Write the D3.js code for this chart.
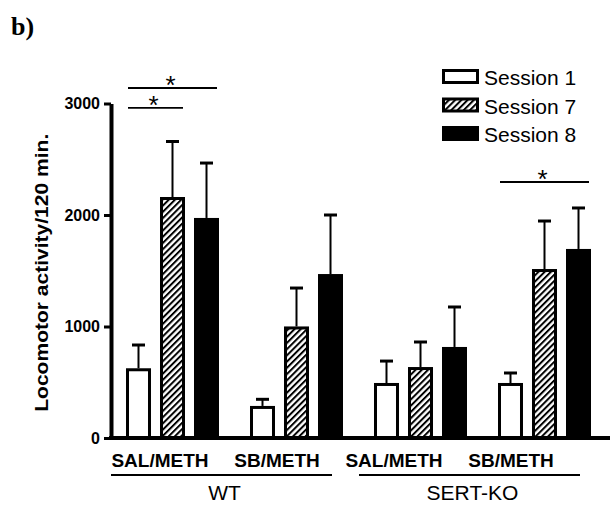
<!DOCTYPE html>
<html>
<head>
<meta charset="utf-8">
<script src="https://cdn.jsdelivr.net/npm/d3@7"></script>
<style>
  html, body { margin: 0; padding: 0; background: #fff; }
  svg { display: block; }
</style>
</head>
<body>
<svg id="chart" width="613" height="505"></svg>
<script>
// ---------- data ----------
const groupIds = ["WT-SAL", "WT-SB", "KO-SAL", "KO-SB"];
const treatmentLabels = ["SAL/METH", "SB/METH", "SAL/METH", "SB/METH"];
const genotypes = ["WT", "SERT-KO"];
const genotypeOfGroup = ["WT", "WT", "SERT-KO", "SERT-KO"];
const sessions = ["Session 1", "Session 7", "Session 8"];

const session1Mean = [612, 274, 480, 480];
const session7Mean = [2148, 987, 623, 1502];
const session8Mean = [1960, 1457, 803, 1682];

const session1Sem = [222, 73, 210, 103];
const session7Sem = [511, 358, 238, 444];
const session8Sem = [506, 543, 372, 381];

const yTicks = [0, 1000, 2000, 3000];

// significance brackets: group index, from session index, to session index, height (data units)
const sigGroup = [0, 0, 3];
const sigFrom = [0, 0, 0];
const sigTo = [1, 2, 2];
const sigLevel = [2960, 3139, 2296];
const sigLabel = ["*", "*", "*"];

// ---------- setup ----------
const svg = d3.select("#chart");
const SANS = "'Liberation Sans', Arial, Helvetica, sans-serif";

const means = [session1Mean, session7Mean, session8Mean];
const sems = [session1Sem, session7Sem, session8Sem];

const y = d3.scaleLinear().domain([0, 3000]).range([438, 103.5]);
const xg = d3.scaleBand().domain(groupIds).range([126, 591]).paddingInner(0.25).paddingOuter(0);
const xs = d3.scaleBand().domain(sessions).range([0, xg.bandwidth()]).paddingInner(0.265).paddingOuter(0);
const xLabel = d3.scalePoint().domain(groupIds).range([160, 511]);

// hatch pattern
const defs = svg.append("defs");
const pat = defs.append("pattern")
  .attr("id", "hatch")
  .attr("patternUnits", "userSpaceOnUse")
  .attr("width", 4.4).attr("height", 4.4)
  .attr("patternTransform", "rotate(45)");
pat.append("rect").attr("width", 4.4).attr("height", 4.4).attr("fill", "#fff");
pat.append("line").attr("x1", 1).attr("y1", 0).attr("x2", 1).attr("y2", 4.4)
  .attr("stroke", "#000").attr("stroke-width", 2);

const fills = ["#fff", "url(#hatch)", "#000"];

// title
svg.append("text")
  .attr("x", 11).attr("y", 35)
  .attr("font-family", "'Liberation Serif', 'Times New Roman', serif")
  .attr("font-weight", "bold").attr("font-size", 26)
  .text("b)");

// y axis
const yAxis = svg.append("g")
  .attr("transform", "translate(111,0)")
  .call(d3.axisLeft(y).tickValues(yTicks).tickSize(7).tickSizeOuter(0).tickPadding(4).tickFormat(d3.format("d")));
yAxis.select(".domain").attr("stroke", "#000").attr("stroke-width", 4);
yAxis.selectAll(".tick line").attr("stroke", "#000").attr("stroke-width", 3);
yAxis.selectAll(".tick text")
  .attr("font-family", SANS).attr("font-weight", "bold").attr("font-size", 16).attr("fill", "#000");

// y label
svg.append("text")
  .attr("transform", `translate(48,${(y(0) + y(3000)) / 2 + 2}) rotate(-90)`)
  .attr("text-anchor", "middle")
  .attr("font-family", SANS).attr("font-weight", "bold").attr("font-size", 19)
  .attr("textLength", 278).attr("lengthAdjust", "spacingAndGlyphs")
  .text("Locomotor activity/120 min.");

// bars
const barData = [];
groupIds.forEach((g, gi) => {
  sessions.forEach((s, si) => {
    barData.push({ g, gi, s, si, mean: means[si][gi], sem: sems[si][gi] });
  });
});

const barG = svg.append("g");
barG.selectAll("rect.bar").data(barData).join("rect")
  .attr("class", "bar")
  .attr("x", d => xg(d.g) + xs(d.s) + 1.5)
  .attr("width", xs.bandwidth() - 3)
  .attr("y", d => y(d.mean))
  .attr("height", d => y(0) - y(d.mean))
  .attr("fill", d => fills[d.si])
  .attr("stroke", "#000").attr("stroke-width", 3);

// error bars
const errG = svg.append("g");
errG.selectAll("line.stem").data(barData).join("line")
  .attr("class", "stem")
  .attr("x1", d => xg(d.g) + xs(d.s) + xs.bandwidth() / 2)
  .attr("x2", d => xg(d.g) + xs(d.s) + xs.bandwidth() / 2)
  .attr("y1", d => y(d.mean) - 1.5)
  .attr("y2", d => y(d.mean + d.sem))
  .attr("stroke", "#000").attr("stroke-width", 2);
errG.selectAll("line.cap").data(barData).join("line")
  .attr("class", "cap")
  .attr("x1", d => xg(d.g) + xs(d.s) + xs.bandwidth() / 2 - 6.5)
  .attr("x2", d => xg(d.g) + xs(d.s) + xs.bandwidth() / 2 + 6.5)
  .attr("y1", d => y(d.mean + d.sem))
  .attr("y2", d => y(d.mean + d.sem))
  .attr("stroke", "#000").attr("stroke-width", 3);

// x axis line
svg.append("line")
  .attr("x1", 109).attr("x2", 610)
  .attr("y1", y(0)).attr("y2", y(0))
  .attr("stroke", "#000").attr("stroke-width", 4);

// treatment labels
svg.append("g").selectAll("text").data(groupIds).join("text")
  .attr("x", d => xLabel(d))
  .attr("y", 467)
  .attr("text-anchor", "middle")
  .attr("font-family", SANS).attr("font-weight", "bold").attr("font-size", 19)
  .text((d, i) => treatmentLabels[i]);

// genotype underline + labels
genotypes.forEach(gt => {
  const gs = groupIds.filter((g, i) => genotypeOfGroup[i] === gt);
  const x0 = xg(gs[0]) - 15;
  const x1 = xg(gs[gs.length - 1]) + xg.bandwidth() - 11;
  svg.append("line")
    .attr("x1", x0).attr("x2", x1).attr("y1", 475).attr("y2", 475)
    .attr("stroke", "#000").attr("stroke-width", 2);
  svg.append("text")
    .attr("x", (x0 + x1) / 2 + 3).attr("y", 500)
    .attr("text-anchor", "middle")
    .attr("font-family", SANS).attr("font-size", 21)
    .text(gt);
});

// significance brackets
sigGroup.forEach((gi, k) => {
  const g = groupIds[gi];
  const x0 = xg(g) + xs(sessions[sigFrom[k]]) + 2;
  const x1 = xg(g) + xs(sessions[sigTo[k]]) + xs.bandwidth() - 2;
  const yy = y(sigLevel[k]);
  svg.append("line")
    .attr("x1", x0).attr("x2", x1).attr("y1", yy).attr("y2", yy)
    .attr("stroke", "#000").attr("stroke-width", 1.8);
  svg.append("text")
    .attr("x", (x0 + x1) / 2 - 2).attr("y", yy - 9 + 15)
    .attr("text-anchor", "middle")
    .attr("font-family", SANS).attr("font-size", 26)
    .text(sigLabel[k]);
});

// legend
const legend = svg.append("g");
sessions.forEach((s, i) => {
  const base = 85 + i * 28.5;
  legend.append("rect")
    .attr("x", 443.5).attr("y", base - 14.5)
    .attr("width", 34).attr("height", 12)
    .attr("fill", fills[i]).attr("stroke", "#000").attr("stroke-width", 3);
  legend.append("text")
    .attr("x", 484).attr("y", base)
    .attr("font-family", SANS).attr("font-size", 21)
    .text(s);
});
</script>
</body>
</html>
